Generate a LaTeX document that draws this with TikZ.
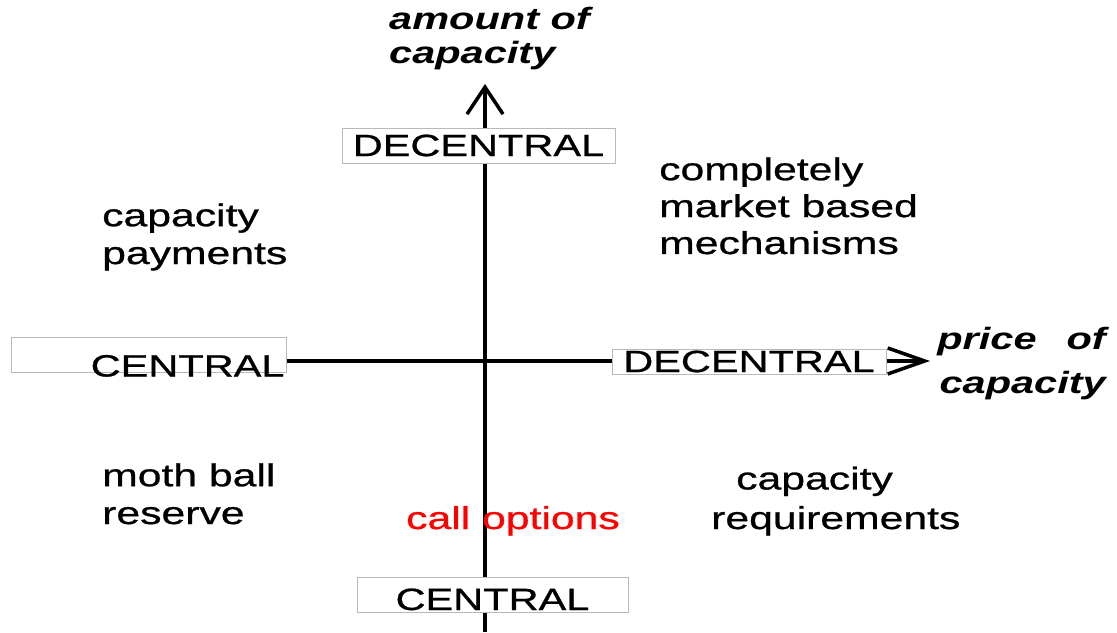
\documentclass[tikz,border=0pt]{standalone}
\usepackage{fontspec}
\setmainfont[FakeStretch=1.35, UprightFeatures={FakeBold=0.8}]{Liberation Sans}
\usepackage{xcolor}
\usepackage{tikz}
\usetikzlibrary{arrows.meta,backgrounds}

\begin{document}
\begin{tikzpicture}[
  axis/.style={line width=2pt},
  pole/.style={rectangle, draw=gray!55, line width=0.5pt, fill=white, inner sep=0pt, font=\fontsize{17.5}{20}\selectfont},
  quadrant/.style={anchor=base west, align=left, font=\fontsize{18}{21.5}\selectfont},
  dimension/.style={font=\fontsize{17.5}{19.4}\selectfont\bfseries\itshape}
]
\useasboundingbox (-9.70,-5.44) rectangle (12.64,7.20);

% ends of the two axes
\coordinate (ybot) at (0,-5.44);
\coordinate (ytip) at (0,5.52);
\coordinate (xtip) at (8.90,-0.02);

% boxes at the ends of the axes
\node[pole, minimum width=5.46cm, minimum height=0.70cm] (decY) at (-0.13,4.29) {DECENTRAL};
\node[pole, minimum width=5.42cm, minimum height=0.70cm] (cenY) at (0.15,-4.69) {\raisebox{-0.31cm}[0pt][0pt]{CENTRAL}};
\node[pole, text width=5.44cm, inner xsep=0.03cm, minimum height=0.70cm, align=right] (cenX) at (-6.73,0.11) {\raisebox{-0.44cm}[0pt][0pt]{CENTRAL}};
\node[pole, minimum width=5.48cm, minimum height=0.50cm] (decX) at (5.28,-0.03) {DECENTRAL};

% axis titles (base = last line)
\node[dimension, anchor=base west, align=left] (amount) at (-2.04,5.92) {amount of\\capacity};
\node[dimension, anchor=base east, align=right, font=\fontsize{17.5}{24.5}\selectfont\bfseries\itshape] (price) at (12.54,-0.66) {price\hspace{0.6cm}of\\capacity};

% mechanisms in the four quadrants
\node[quadrant] (payments) at (-7.78,1.92) {capacity\\payments};
\node[quadrant, font=\fontsize{18}{21}\selectfont] (market) at (3.36,2.12) {completely\\market based\\mechanisms};
\node[quadrant] (mothball) at (-7.78,-3.28) {moth ball\\reserve};
\node[quadrant, font=\fontsize{18}{22.5}\selectfont] (requirements) at (4.40,-3.38) {\hspace*{0.5cm}capacity\\requirements};
\node[quadrant, text=red] (calls) at (-1.70,-3.38) {call options};

\begin{scope}[on background layer]
\draw[axis, -{Straight Barb[length=0.54cm, width=0.72cm, line width=2pt]}] (ybot) -- (ytip);
\draw[axis, -{Straight Barb[length=0.74cm, width=0.52cm, line width=2pt]}] (cenX.east |- xtip) -- (xtip);
\end{scope}

\end{tikzpicture}
\end{document}
